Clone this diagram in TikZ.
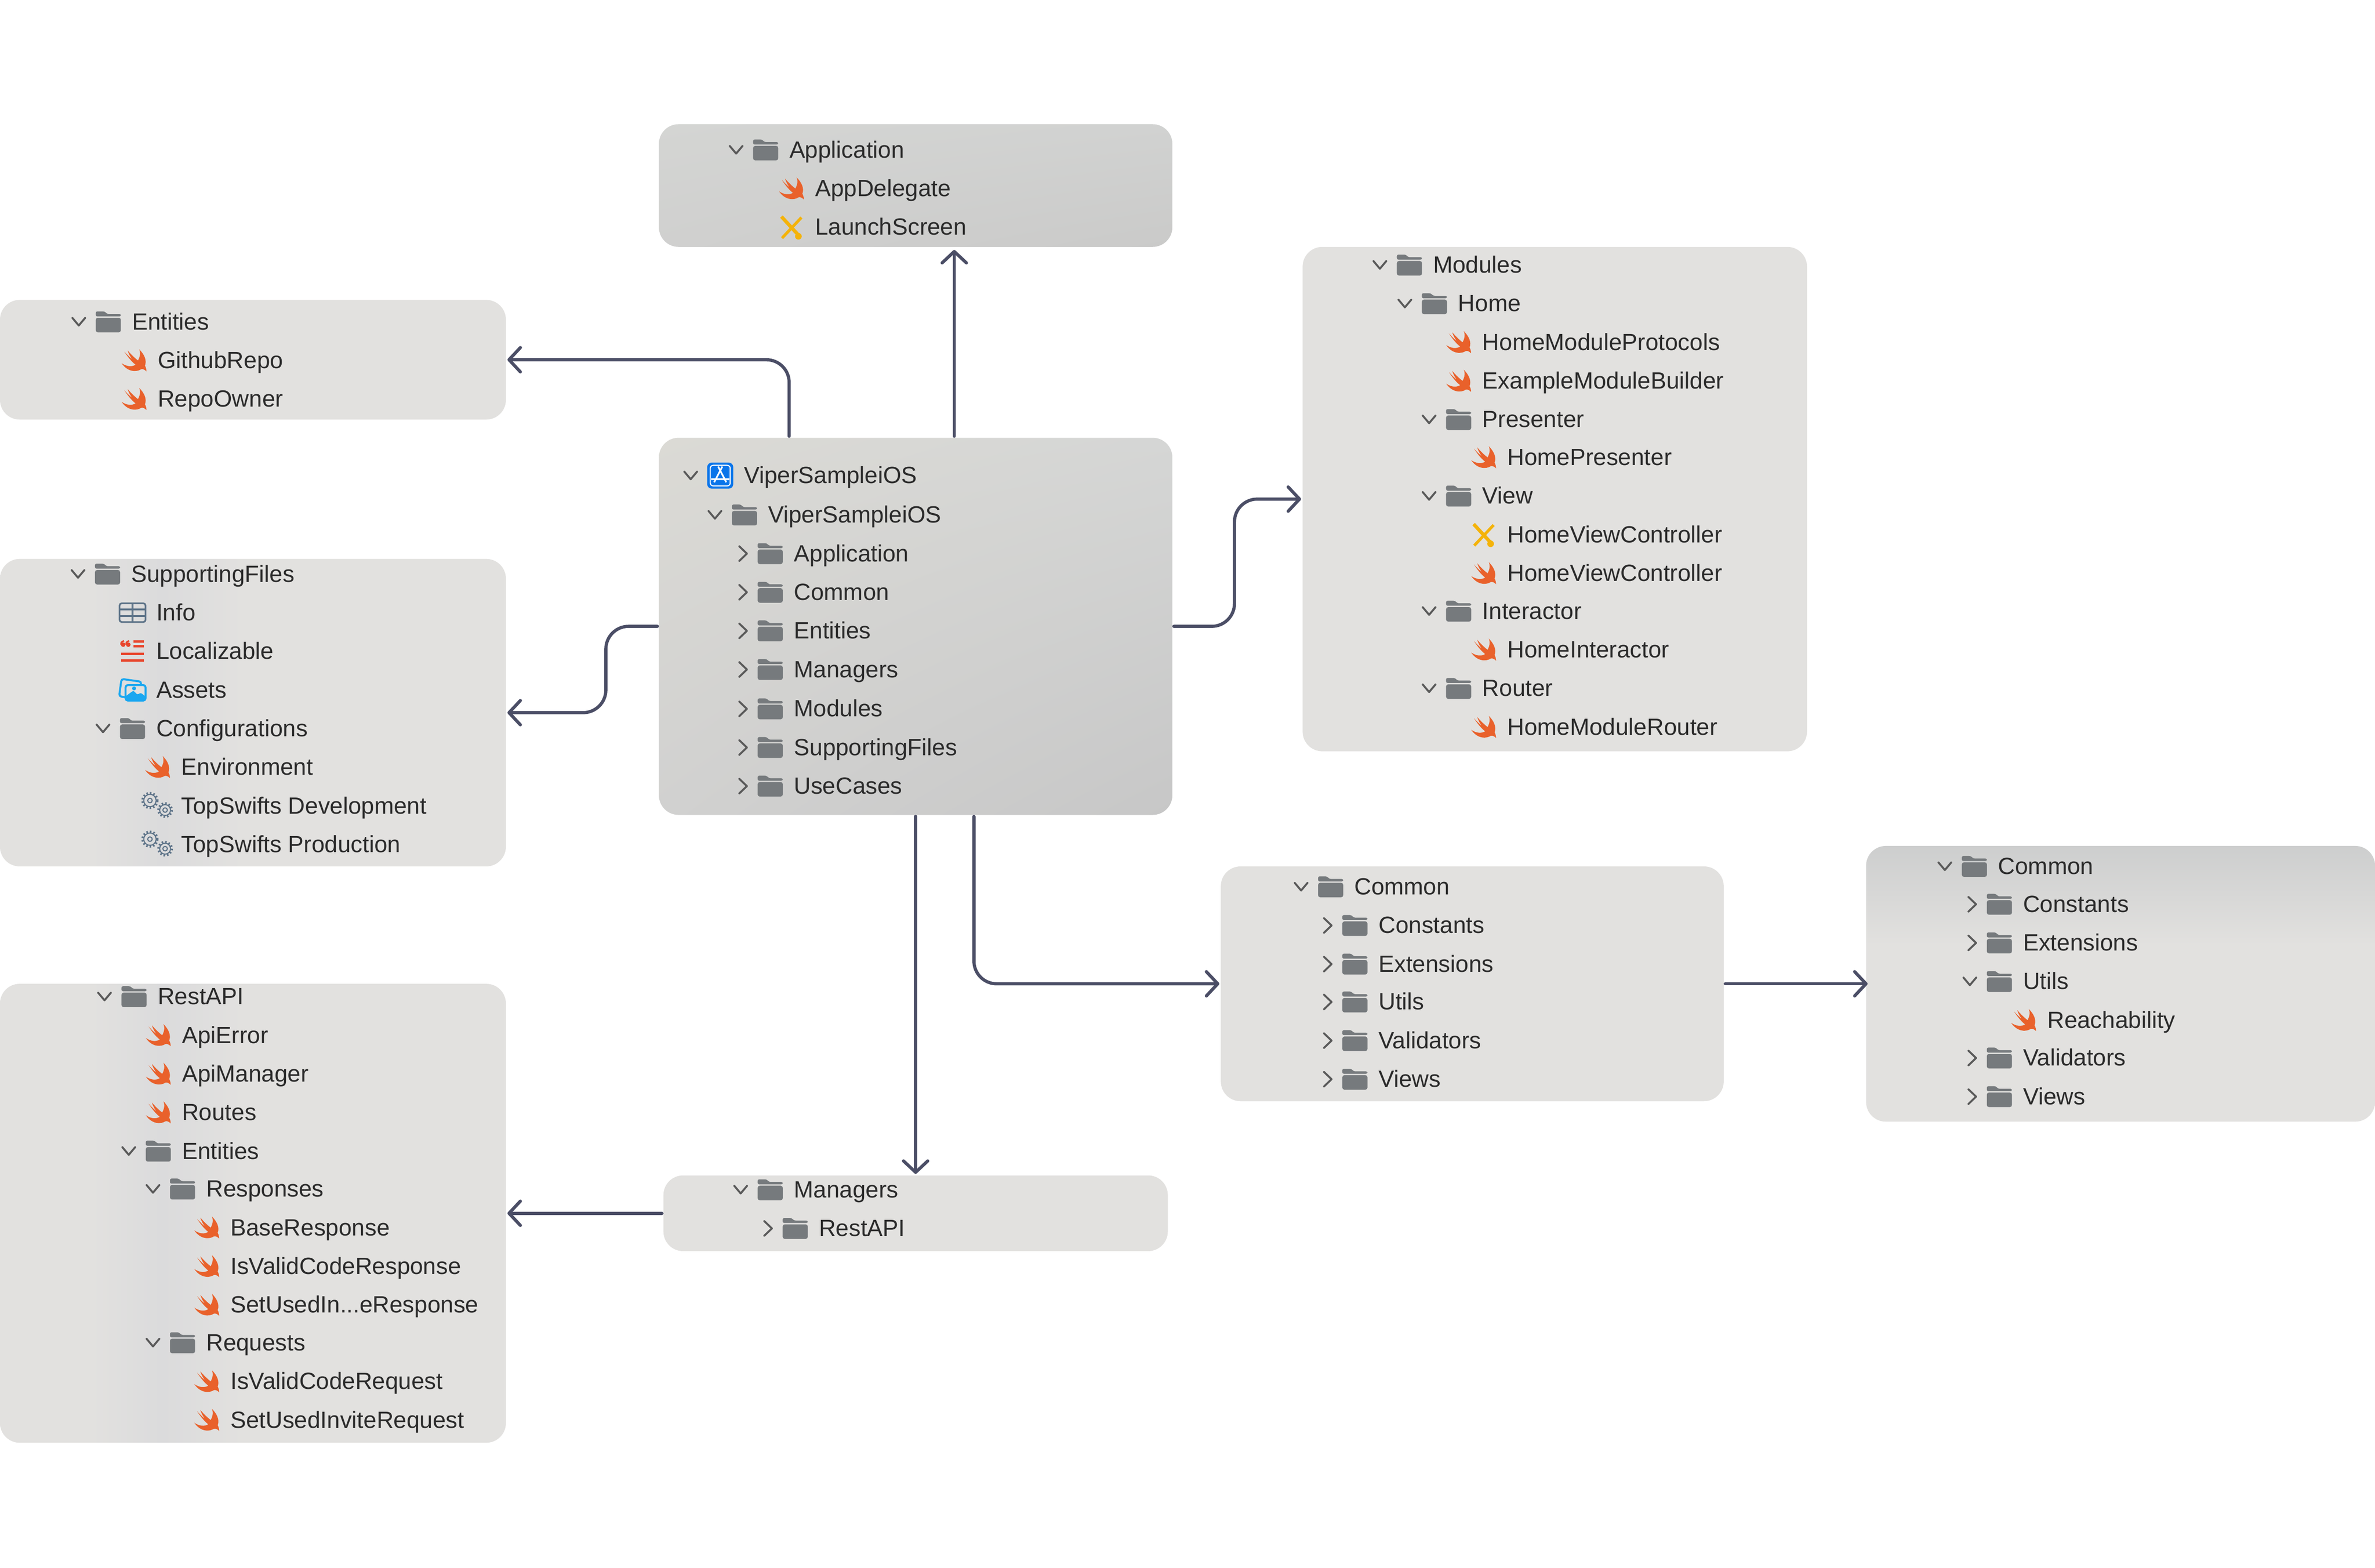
\documentclass[tikz,border=0pt]{standalone}
\usepackage{fontspec}
\setmainfont{Liberation Sans}
\usetikzlibrary{arrows.meta,shadings}

\definecolor{panelgrey}{HTML}{E2E1DF}
\definecolor{bandgrey}{HTML}{DBDBDC}
\definecolor{topgrey}{HTML}{CDCECE}
\definecolor{appUL}{HTML}{D4D5D3}
\definecolor{appUR}{HTML}{D1D2D1}
\definecolor{appLL}{HTML}{D0D0CF}
\definecolor{appLR}{HTML}{CACAC9}
\definecolor{projUL}{HTML}{DBDAD5}
\definecolor{projUR}{HTML}{D5D6D5}
\definecolor{projLL}{HTML}{D1D1D0}
\definecolor{projLR}{HTML}{C7C7C7}
\definecolor{linkslate}{HTML}{4B4E66}
\definecolor{foldergrey}{HTML}{767A7D}
\definecolor{chevgrey}{HTML}{5A5A5A}
\definecolor{labelink}{HTML}{2B2B2B}
\definecolor{swiftorange}{HTML}{E9612B}
\definecolor{xibyellow}{HTML}{F4B30A}
\definecolor{plistslate}{HTML}{5D7388}
\definecolor{stringsred}{HTML}{E8452C}
\definecolor{assetblue}{HTML}{1AA7F0}
\definecolor{appblue}{HTML}{0A75EA}

\pgfdeclarehorizontalshading{bandfade}{100bp}{color(0bp)=(panelgrey); color(34bp)=(panelgrey); color(41bp)=(bandgrey); color(49bp)=(panelgrey); color(100bp)=(panelgrey)}
\pgfdeclareverticalshading{topfade}{100bp}{color(0bp)=(panelgrey); color(57bp)=(panelgrey); color(75bp)=(topgrey); color(100bp)=(topgrey)}

\tikzset{
	flatbox/.style={fill=panelgrey, rounded corners=13pt, inner sep=0pt, outer sep=0pt},
	bandbox/.style={shade, shading=bandfade, rounded corners=13pt, inner sep=0pt, outer sep=0pt},
	fadebox/.style={shade, shading=topfade, rounded corners=13pt, inner sep=0pt, outer sep=0pt},
	appbox/.style={shade, upper left=appUL, upper right=appUR, lower left=appLL, lower right=appLR, rounded corners=13pt, inner sep=0pt, outer sep=0pt},
	projbox/.style={shade, upper left=projUL, upper right=projUR, lower left=projLL, lower right=projLR, rounded corners=13pt, inner sep=0pt, outer sep=0pt},
	itemtext/.style={anchor=west, inner sep=0pt, text=labelink, text height=13.4pt, text depth=3pt, font=\fontsize{15.5}{18}\selectfont},
	link/.style={draw=linkslate, line width=2.1pt, line cap=round, rounded corners=15pt, -{Straight Barb[length=7.5pt,width=16pt,line cap=round,round]}, shorten >=1pt, shorten <=1pt},
	chevdown/.pic={\draw[chevgrey, line width=1.3pt, line cap=round, line join=round] (-4.2,-2.6) -- (0,2.4) -- (4.2,-2.6);},
	chevright/.pic={\draw[chevgrey, line width=1.3pt, line cap=round, line join=round] (-2.4,-4.8) -- (2.6,0) -- (-2.4,4.8);},
	folder/.pic={
		\fill[foldergrey, rounded corners=1pt] (-8.3,-3.6) -- (-8.3,-6.9) -- (-2.4,-6.9) -- (-0.8,-5.2) -- (8.3,-5.2) -- (8.3,-3.6) -- cycle;
		\fill[foldergrey, rounded corners=1.4pt] (-8.3,-2.7) rectangle (8.3,6.9);
	},
	swiftfile/.pic={
		\fill[swiftorange] (3.4,-7.4) .. controls (6.8,-4) and (8.6,0) .. (7.2,3.4)
			.. controls (7.8,4.5) and (8.2,5.8) .. (8.2,7.2)
			.. controls (7,6) and (5.8,5.4) .. (4.6,5.8)
			.. controls (2,7.6) and (-4,8) .. (-8.2,1.8)
			.. controls (-5,4) and (-1.5,4.4) .. (1,2.8)
			.. controls (-2,0.5) and (-4.5,-3) .. (-6.4,-5.8)
			.. controls (-4,-3.2) and (-2.5,-1.8) .. (-1.2,-0.8)
			.. controls (-2.4,-2.4) and (-3.4,-4) .. (-4.2,-6.6)
			.. controls (-2,-4) and (0.5,-1.6) .. (2.6,0)
			.. controls (4,-2.6) and (4.4,-5) .. (3.4,-7.4) -- cycle;
	},
	xibfile/.pic={
		\draw[xibyellow, line width=2.3pt] (-6.6,-7) -- (4.8,5.4);
		\draw[xibyellow, line width=1.9pt] (6.6,-6.4) -- (-6.2,7.2);
		\fill[xibyellow] (4.6,6) circle (2.2);
	},
	plistfile/.pic={
		\draw[plistslate, line width=1.1pt, rounded corners=1.5pt] (-8.6,-6.2) rectangle (8.6,6.2);
		\draw[plistslate, line width=1.1pt] (-8.6,-2.2) -- (8.6,-2.2) (-8.6,2.2) -- (8.6,2.2) (0,-6.2) -- (0,6.2);
	},
	stringsfile/.pic={
		\fill[stringsred] (-6.2,-4.4) circle (1.5) (-2.8,-4.4) circle (1.5);
		\draw[stringsred, line width=1pt] (-7.6,-4.4) .. controls (-7.6,-6) .. (-5.6,-7) (-4.2,-4.4) .. controls (-4.2,-6) .. (-2.2,-7);
		\draw[stringsred, line width=1.6pt] (0.6,-6.6) -- (7.6,-6.6) (0.6,-3.4) -- (7.6,-3.4) (-7.6,1.8) -- (7.6,1.8) (-7.6,6) -- (7.6,6);
	},
	assetfile/.pic={
		\draw[assetblue, line width=1.3pt, rounded corners=1.5pt, rotate=-8] (-8.2,-6.2) rectangle (5,5.4);
		\fill[panelgrey] (-4.8,-3.4) rectangle (8.8,7.4);
		\draw[assetblue, line width=1.3pt, rounded corners=1.5pt] (-4.6,-3.2) rectangle (8.6,7);
		\fill[assetblue, rounded corners=1pt] (-4.6,7) -- (-4.6,4.2) -- (0.6,0.4) -- (3.2,3.2) -- (5.4,1.8) -- (8.6,4.4) -- (8.6,7) -- cycle;
		\fill[assetblue] (1,-1) circle (1.3);
	},
	gearfile/.pic={
		\foreach \gx/\gy/\gr in {-5/-3.5/4.9, 5/2.8/4.4} {
			\draw[plistslate, line width=1.5pt, dash pattern=on 1pt off 1.3pt] (\gx,\gy) circle (\gr);
			\draw[plistslate, line width=0.7pt] (\gx,\gy) circle ({\gr-0.8});
			\draw[plistslate, line width=0.7pt] (\gx,\gy) circle (1.5);
		}
	},
	projectfile/.pic={
		\fill[appblue, rounded corners=3pt] (-8.6,-8.6) rectangle (8.6,8.6);
		\draw[white, line width=0.7pt, rounded corners=2pt] (-6.6,-6.8) rectangle (6.6,6.8);
		\draw[white, line width=1.1pt] (-1.4,-6) -- (4,4.4) (1.4,-6) -- (-4,4.4) (-6,2.4) -- (6,2.4);
	}
}

\newcommand{\fileitem}[5]{
	\node[itemtext] (#1) at (#2,#3) {#5};
	\pic at ([xshift=-15.5pt]#1.west) {#4};
}
\newcommand{\openfolder}[4]{
	\node[itemtext] (#1) at (#2,#3) {#4};
	\pic at ([xshift=-15.5pt]#1.west) {folder};
	\pic at ([xshift=-35pt]#1.west) {chevdown};
}
\newcommand{\shutfolder}[4]{
	\node[itemtext] (#1) at (#2,#3) {#4};
	\pic at ([xshift=-15.5pt]#1.west) {folder};
	\pic at ([xshift=-33.5pt]#1.west) {chevright};
}

\begin{document}
\begin{tikzpicture}[x=1pt,y=-1pt]
	\useasboundingbox (0,0) rectangle (1568,1035);

	\node[appbox, minimum width=339pt, minimum height=81pt] (applicationbox) at (604.5,122.5) {};
	\node[projbox, minimum width=339pt, minimum height=249pt] (projectbox) at (604.5,413.5) {};
	\node[flatbox, minimum width=334pt, minimum height=79pt] (entitiesbox) at (167,237.5) {};
	\node[bandbox, minimum width=334pt, minimum height=203pt] (supportbox) at (167,470.5) {};
	\node[bandbox, minimum width=334pt, minimum height=303pt] (restbox) at (167,801) {};
	\node[flatbox, minimum width=333pt, minimum height=333pt] (modulesbox) at (1026.5,329.5) {};
	\node[flatbox, minimum width=332pt, minimum height=155pt] (commonbox) at (972,649.5) {};
	\node[fadebox, minimum width=336pt, minimum height=182pt] (utilsbox) at (1400,649.5) {};
	\node[flatbox, minimum width=333pt, minimum height=50pt] (managersbox) at (604.5,801) {};

	\openfolder{appRoot}{521}{99}{Application}
	\fileitem{appDelegate}{538}{124.5}{swiftfile}{AppDelegate}
	\fileitem{appLaunch}{538}{150}{xibfile}{LaunchScreen}

	\openfolder{entRoot}{87}{212.5}{Entities}
	\fileitem{entRepo}{104}{238}{swiftfile}{GithubRepo}
	\fileitem{entOwner}{104}{263.5}{swiftfile}{RepoOwner}

	\openfolder{supRoot}{86.5}{379}{SupportingFiles}
	\fileitem{supInfo}{103}{404.5}{plistfile}{Info}
	\fileitem{supLocal}{103}{430}{stringsfile}{Localizable}
	\fileitem{supAssets}{103}{455.5}{assetfile}{Assets}
	\openfolder{supConfig}{103}{481}{Configurations}
	\fileitem{supEnv}{119.5}{506.5}{swiftfile}{Environment}
	\fileitem{supDev}{119.5}{532}{gearfile}{TopSwifts Development}
	\fileitem{supProd}{119.5}{557.5}{gearfile}{TopSwifts Production}

	\openfolder{restRoot}{104}{658}{RestAPI}
	\fileitem{restError}{120}{683.5}{swiftfile}{ApiError}
	\fileitem{restManager}{120}{709}{swiftfile}{ApiManager}
	\fileitem{restRoutes}{120}{734.5}{swiftfile}{Routes}
	\openfolder{restEntities}{120}{760}{Entities}
	\openfolder{restResp}{136}{785}{Responses}
	\fileitem{respBase}{152}{810.5}{swiftfile}{BaseResponse}
	\fileitem{respValid}{152}{836}{swiftfile}{IsValidCodeResponse}
	\fileitem{respUsed}{152}{861.5}{swiftfile}{SetUsedIn...eResponse}
	\openfolder{restReq}{136}{886.5}{Requests}
	\fileitem{reqValid}{152}{912}{swiftfile}{IsValidCodeRequest}
	\fileitem{reqUsed}{152}{937.5}{swiftfile}{SetUsedInviteRequest}

	\node[itemtext] (projRoot) at (491,314) {ViperSampleiOS};
	\pic at ([xshift=-15.5pt]projRoot.west) {projectfile};
	\pic at ([xshift=-35pt]projRoot.west) {chevdown};
	\openfolder{projMain}{507}{340}{ViperSampleiOS}
	\shutfolder{projApp}{524}{365.5}{Application}
	\shutfolder{projCommon}{524}{391}{Common}
	\shutfolder{projEnt}{524}{416.5}{Entities}
	\shutfolder{projMgr}{524}{442}{Managers}
	\shutfolder{projMod}{524}{468}{Modules}
	\shutfolder{projSup}{524}{493.5}{SupportingFiles}
	\shutfolder{projUse}{524}{519}{UseCases}

	\openfolder{modRoot}{946}{175}{Modules}
	\openfolder{modHome}{962.5}{200.5}{Home}
	\fileitem{modProto}{978.5}{226}{swiftfile}{HomeModuleProtocols}
	\fileitem{modBuilder}{978.5}{251.5}{swiftfile}{ExampleModuleBuilder}
	\openfolder{modPres}{978.5}{277}{Presenter}
	\fileitem{presHome}{995}{302}{swiftfile}{HomePresenter}
	\openfolder{modView}{978.5}{327.5}{View}
	\fileitem{viewXib}{995}{353}{xibfile}{HomeViewController}
	\fileitem{viewSwift}{995}{378.5}{swiftfile}{HomeViewController}
	\openfolder{modInter}{978.5}{403.5}{Interactor}
	\fileitem{interHome}{995}{429}{swiftfile}{HomeInteractor}
	\openfolder{modRouter}{978.5}{454.5}{Router}
	\fileitem{routerHome}{995}{480}{swiftfile}{HomeModuleRouter}

	\openfolder{comRoot}{894}{585.5}{Common}
	\shutfolder{comConst}{910}{611}{Constants}
	\shutfolder{comExt}{910}{636.5}{Extensions}
	\shutfolder{comUtils}{910}{661.5}{Utils}
	\shutfolder{comValid}{910}{687}{Validators}
	\shutfolder{comViews}{910}{712.5}{Views}

	\openfolder{utilRoot}{1319}{572}{Common}
	\shutfolder{utilConst}{1335.5}{597}{Constants}
	\shutfolder{utilExt}{1335.5}{622.5}{Extensions}
	\openfolder{utilUtils}{1335.5}{648}{Utils}
	\fileitem{utilReach}{1351.5}{673.5}{swiftfile}{Reachability}
	\shutfolder{utilValid}{1335.5}{698.5}{Validators}
	\shutfolder{utilViews}{1335.5}{724}{Views}

	\openfolder{mgrRoot}{524}{785.5}{Managers}
	\shutfolder{mgrRest}{540.5}{811}{RestAPI}

	\draw[link, shorten >=2pt] ([xshift=25.5pt]projectbox.north) -- ([xshift=25.5pt]projectbox.north |- applicationbox.south);
	\draw[link] ([xshift=-83.5pt]projectbox.north) |- (entitiesbox.east);
	\draw[link] (projectbox.west) -- +(-35,0) |- (supportbox.east);
	\draw[link] (projectbox.east) -- +(41,0) |- (modulesbox.west);
	\draw[link] ([xshift=38.5pt]projectbox.south) |- (commonbox.west);
	\draw[link] (projectbox.south) -- (managersbox.north);
	\draw[link, shorten >=-1pt] (commonbox.east) -- (utilsbox.west);
	\draw[link] (managersbox.west) -- (restbox.east);
\end{tikzpicture}
\end{document}
